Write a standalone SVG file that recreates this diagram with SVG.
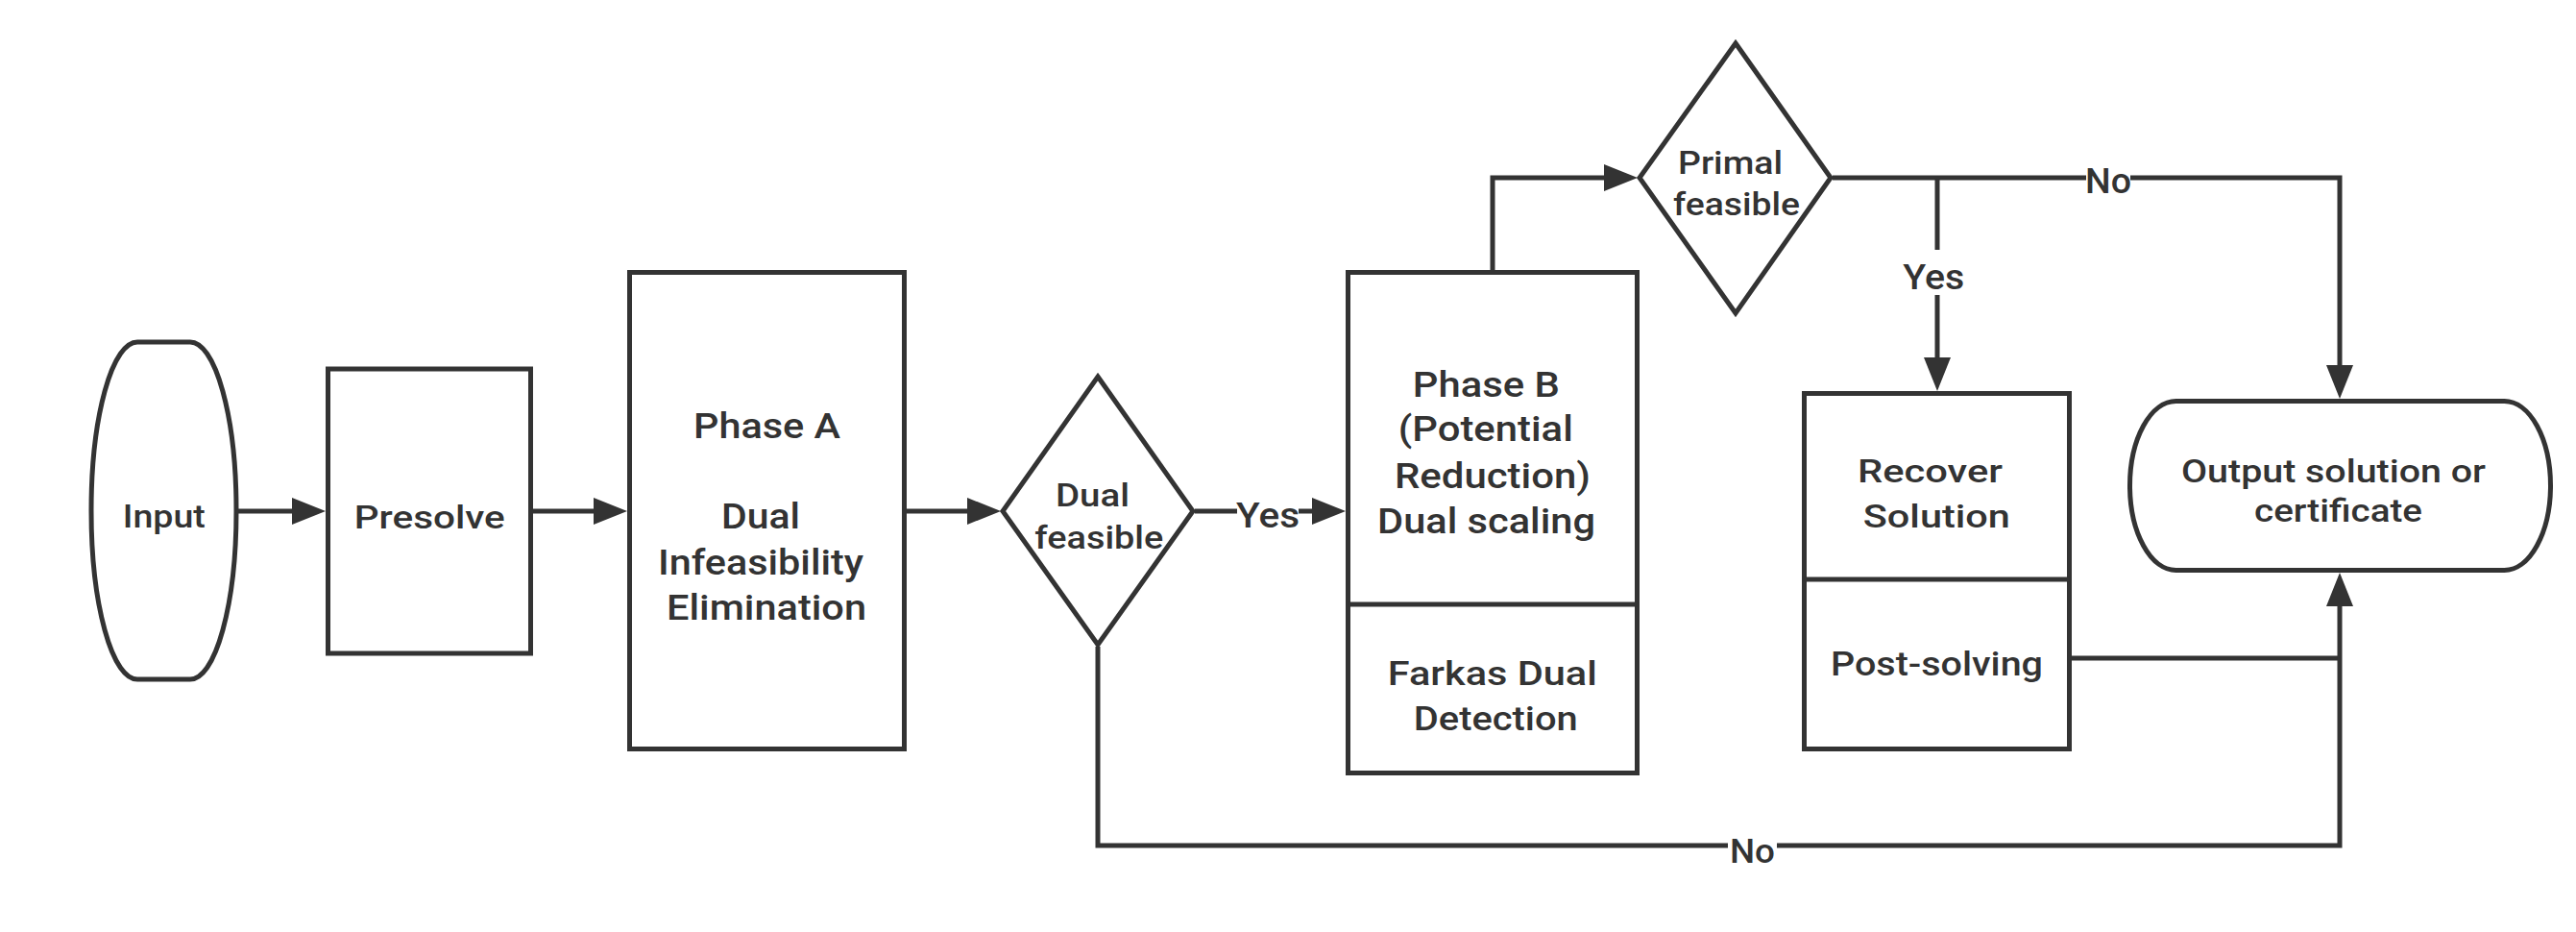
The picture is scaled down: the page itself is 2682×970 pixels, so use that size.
<svg xmlns="http://www.w3.org/2000/svg" width="2682" height="970" viewBox="0 0 2682 970">
<style>
.shape{fill:#ffffff;stroke:#333333;stroke-width:5}
.line{fill:none;stroke:#333333;stroke-width:5}
.t{font-family:Roboto,"Liberation Sans",Arial,sans-serif;font-weight:500;fill:#333333;text-anchor:middle}
.bg{fill:#ffffff;stroke:none}
</style>
<defs>
<marker id="arr" markerUnits="userSpaceOnUse" markerWidth="35" markerHeight="28" refX="27" refY="14" orient="auto">
<path d="M0,0 L35,14 L0,28 Z" fill="#333333"/>
</marker>
</defs>
<rect width="2682" height="970" fill="#ffffff"/>

<g id="connectors">
<path class="line" d="M246,532 H331" marker-end="url(#arr)"/>
<path class="line" d="M553,532 H645" marker-end="url(#arr)"/>
<path class="line" d="M942,532 H1034" marker-end="url(#arr)"/>
<path class="line" d="M1244,532 H1393" marker-end="url(#arr)"/>
<path class="line" d="M1554,283 V185 H1697" marker-end="url(#arr)"/>
<path class="line" d="M1908,185 H2436 V407" marker-end="url(#arr)"/>
<path class="line" d="M2017,185 V399" marker-end="url(#arr)"/>
<path class="line" d="M2156,685 H2436"/>
<path class="line" d="M1143,673 V880 H2436 V604" marker-end="url(#arr)"/>
<rect class="bg" x="1288" y="518" width="64" height="28"/>
<text class="t" x="1320" y="549" font-size="36" textLength="66" lengthAdjust="spacingAndGlyphs">Yes</text>
<rect class="bg" x="2172" y="172" width="46" height="26"/>
<text class="t" x="2195" y="200.5" font-size="36" textLength="48" lengthAdjust="spacingAndGlyphs">No</text>
<rect class="bg" x="1990" y="260" width="52" height="47"/>
<text class="t" x="2013.3" y="301" font-size="36" textLength="64" lengthAdjust="spacingAndGlyphs">Yes</text>
<rect class="bg" x="1799" y="868" width="51" height="24"/>
<text class="t" x="1824.5" y="898" font-size="34.5" textLength="47" lengthAdjust="spacingAndGlyphs">No</text>
</g>

<g id="input">
<rect class="shape" x="95" y="356" width="151" height="351" rx="48" ry="175"/>
<text class="t" x="170.8" y="549" font-size="34" textLength="86" lengthAdjust="spacingAndGlyphs">Input</text>
</g>

<g id="presolve">
<rect class="shape" x="341.5" y="384" width="211" height="296"/>
<text class="t" x="447.3" y="550" font-size="34" textLength="157" lengthAdjust="spacingAndGlyphs">Presolve</text>
</g>

<g id="phaseA">
<rect class="shape" x="655.5" y="283.5" width="286" height="496"/>
<text class="t" x="798.5" y="455.5" font-size="37" textLength="153" lengthAdjust="spacingAndGlyphs">Phase A</text>
<text class="t" x="792" y="550" font-size="37" textLength="82" lengthAdjust="spacingAndGlyphs">Dual</text>
<text class="t" x="792" y="598" font-size="37" textLength="214" lengthAdjust="spacingAndGlyphs">Infeasibility</text>
<text class="t" x="798" y="645" font-size="37" textLength="208" lengthAdjust="spacingAndGlyphs">Elimination</text>
</g>

<g id="dualFeasible">
<polygon class="shape" points="1143,392 1242,532 1143,671 1044,532"/>
<text class="t" x="1137.5" y="526.7" font-size="33" textLength="77" lengthAdjust="spacingAndGlyphs">Dual</text>
<text class="t" x="1144.3" y="570.7" font-size="33" textLength="134" lengthAdjust="spacingAndGlyphs">feasible</text>
</g>

<g id="phaseB">
<rect class="shape" x="1403.5" y="283.5" width="301" height="521"/>
<line class="line" x1="1403.5" y1="629" x2="1704.5" y2="629"/>
<text class="t" x="1547.3" y="413" font-size="37" textLength="153" lengthAdjust="spacingAndGlyphs">Phase B</text>
<text class="t" x="1546.8" y="459" font-size="37" textLength="182" lengthAdjust="spacingAndGlyphs">(Potential</text>
<text class="t" x="1554" y="508" font-size="37" textLength="204" lengthAdjust="spacingAndGlyphs">Reduction)</text>
<text class="t" x="1547.5" y="555" font-size="37" textLength="227" lengthAdjust="spacingAndGlyphs">Dual scaling</text>
<text class="t" x="1553.8" y="713" font-size="35" textLength="218" lengthAdjust="spacingAndGlyphs">Farkas Dual</text>
<text class="t" x="1557.3" y="760" font-size="35" textLength="171" lengthAdjust="spacingAndGlyphs">Detection</text>
</g>

<g id="primalFeasible">
<polygon class="shape" points="1807,45 1906,185 1807,326 1707,185"/>
<text class="t" x="1801.5" y="180.7" font-size="33.5" textLength="109" lengthAdjust="spacingAndGlyphs">Primal</text>
<text class="t" x="1808" y="224" font-size="33.5" textLength="132" lengthAdjust="spacingAndGlyphs">feasible</text>
</g>

<g id="recover">
<rect class="shape" x="1878.5" y="409.5" width="276" height="370"/>
<line class="line" x1="1878.5" y1="603" x2="2154.5" y2="603"/>
<text class="t" x="2009.5" y="501.7" font-size="33" textLength="151" lengthAdjust="spacingAndGlyphs">Recover</text>
<text class="t" x="2016.3" y="549" font-size="33" textLength="153" lengthAdjust="spacingAndGlyphs">Solution</text>
<text class="t" x="2016.5" y="703" font-size="35" textLength="221" lengthAdjust="spacingAndGlyphs">Post-solving</text>
</g>

<g id="output">
<rect class="shape" x="2217.5" y="417.5" width="438" height="176" rx="48" ry="88"/>
<text class="t" x="2429.5" y="501.7" font-size="33" textLength="317" lengthAdjust="spacingAndGlyphs">Output solution or</text>
<text class="t" x="2434.5" y="543" font-size="33" textLength="175" lengthAdjust="spacingAndGlyphs">certificate</text>
</g>
</svg>
